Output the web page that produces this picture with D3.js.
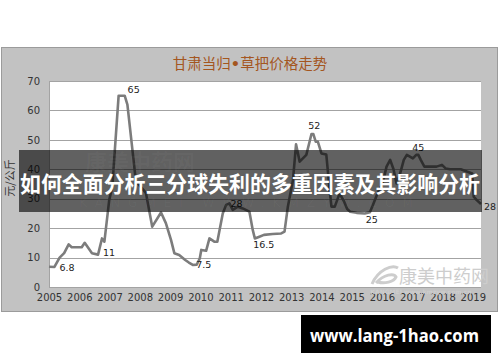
<!DOCTYPE html>
<html>
<head>
<meta charset="utf-8">
<script src="https://cdn.jsdelivr.net/npm/d3@7"></script>
<style>
  body { margin: 0; background: #fff; }
  svg { display: block; }
</style>
</head>
<body>
<div id="viz"></div>
<script>
// price series, 甘肃当归 草把 (元/公斤)
const years = [
    2005.00, 2005.18, 2005.35, 2005.50, 2005.65, 2005.75, 2006.08, 2006.18, 2006.42, 2006.62,
    2006.75, 2006.83, 2006.99, 2007.09, 2007.30, 2007.50, 2007.59, 2007.87, 2008.20, 2008.41,
    2008.70, 2008.86, 2009.03, 2009.14, 2009.30, 2009.50, 2009.62, 2009.75, 2009.88, 2009.98,
    2010.03, 2010.19, 2010.30, 2010.46, 2010.56, 2010.74, 2010.85, 2010.96, 2011.07, 2011.24,
    2011.40, 2011.62, 2011.73, 2011.80, 2011.95, 2012.10, 2012.39, 2012.67, 2012.78, 2012.89,
    2013.06, 2013.16, 2013.28, 2013.50, 2013.67, 2013.73, 2013.81, 2013.88, 2014.00, 2014.16,
    2014.27, 2014.33, 2014.44, 2014.60, 2014.75, 2014.85, 2014.95, 2015.16, 2015.43, 2015.60,
    2015.70, 2015.85, 2016.02, 2016.15, 2016.27, 2016.38, 2016.48, 2016.60, 2016.72, 2016.82,
    2016.92, 2017.02, 2017.13, 2017.20, 2017.28, 2017.40, 2017.80, 2017.98, 2018.10, 2018.25,
    2018.60, 2018.98, 2019.03, 2019.12, 2019.27
];
const prices = [
    6.9, 6.8, 10.0, 11.5, 14.5, 13.5, 13.5, 15.0, 11.5, 11.0,
    16.5, 15.4, 29.6, 34.0, 65.0, 65.0, 62.0, 36.0, 32.0, 20.5,
    25.3, 21.7, 16.0, 11.5, 10.9, 9.2, 8.3, 7.5, 7.6, 9.7,
    12.6, 12.3, 16.5, 15.4, 15.4, 25.0, 27.9, 28.4, 26.2, 27.3,
    26.7, 25.6, 19.4, 16.5, 17.1, 17.7, 18.0, 18.2, 18.8, 27.3,
    36.4, 48.5, 42.6, 44.9, 52.0, 52.0, 49.4, 49.4, 45.4, 45.0,
    33.0, 27.3, 27.3, 31.8, 29.0, 26.5, 25.6, 25.2, 25.0, 25.4,
    27.9, 31.8, 35.2, 40.9, 43.2, 40.0, 35.2, 38.6, 43.2, 44.9,
    44.3, 43.7, 44.9, 44.9, 43.2, 40.9, 40.9, 41.5, 40.3, 40.0,
    40.0, 38.6, 30.7, 29.6, 28.2
];

// annotated points
const noteYears  = [2005.30, 2006.62, 2007.40, 2009.75, 2010.96, 2011.80, 2013.70, 2015.43, 2017.13, 2019.27];
const noteValues = [6.8, 11, 65, 7.5, 28, 16.5, 52, 25, 45, 28];
const noteTexts  = ["6.8", "11", "65", "7.5", "28", "16.5", "52", "25", "45", "28"];

const yearTicks  = d3.range(2005, 2020);
const valueTicks = [0, 10, 20, 30, 40, 50, 60, 70];

const titleParts = ["甘肃当归", "•", "草把价格走势"];
const yTitle     = "元/公斤";
const bannerText = "如何全面分析三分球失利的多重因素及其影响分析";
const siteText   = "www.lang-1hao.com";

const width = 500;
const height = 362;
const plot = { left: 49, right: 481, top: 81, bottom: 287 };
const cjk = "'Noto Sans CJK SC', sans-serif";
const latin = "'DejaVu Sans', Verdana, sans-serif";

const svg = d3.select("#viz").append("svg")
    .attr("width", width)
    .attr("height", height);

const x = d3.scaleLinear()
    .domain([2005, 2019.27])
    .range([plot.left, plot.right]);

const y = d3.scaleLinear()
    .domain([0, 70])
    .range([plot.bottom, plot.top]);

// outer frame
svg.append("rect")
    .attr("x", 1.5).attr("y", 47.5)
    .attr("width", 496).attr("height", 264)
    .attr("fill", "#c2c2c2")
    .attr("stroke", "#9b9b9b");

svg.append("rect")
    .attr("x", plot.left).attr("y", plot.top)
    .attr("width", plot.right - plot.left)
    .attr("height", plot.bottom - plot.top)
    .attr("fill", "#fff");

svg.append("text")
    .attr("x", 250).attr("y", 69)
    .attr("text-anchor", "middle")
    .style("font-family", cjk)
    .style("font-size", "14.5px")
    .style("fill", "#a4561f")
  .selectAll("tspan")
    .data(titleParts)
    .join("tspan")
        .style("font-family", (d, i) => i === 1 ? latin : cjk)
        .style("font-weight", (d, i) => i === 1 ? "bold" : null)
        .text(d => d);

// grid
svg.selectAll(".grid")
    .data(valueTicks.filter(d => d > 0))
    .join("line")
        .attr("class", "grid")
        .attr("x1", plot.left).attr("x2", plot.right)
        .attr("y1", d => Math.round(y(d)) + 0.5)
        .attr("y2", d => Math.round(y(d)) + 0.5)
        .attr("stroke", "#a3a3a3");

svg.append("line")
    .attr("x1", plot.left + 0.5).attr("x2", plot.left + 0.5)
    .attr("y1", plot.top).attr("y2", plot.bottom)
    .attr("stroke", "#a3a3a3");
svg.append("line")
    .attr("x1", plot.left).attr("x2", plot.right)
    .attr("y1", plot.bottom + 0.5).attr("y2", plot.bottom + 0.5)
    .attr("stroke", "#a3a3a3");

// axes
const yAxis = svg.append("g")
    .attr("transform", `translate(${plot.left - 9},0)`)
    .call(d3.axisLeft(y).tickValues(valueTicks).tickSize(0).tickPadding(0));
yAxis.select(".domain").remove();

const xAxis = svg.append("g")
    .attr("transform", `translate(0,${plot.bottom + 7})`)
    .call(d3.axisBottom(x).tickValues(yearTicks).tickFormat(d3.format("d")).tickSize(0).tickPadding(0));
xAxis.select(".domain").remove();

svg.selectAll(".tick text")
    .style("font-family", latin)
    .style("font-size", "10px")
    .style("fill", "#333");

svg.append("text")
    .attr("transform", "translate(14,178) rotate(-90)")
    .attr("text-anchor", "middle")
    .style("font-family", cjk)
    .style("font-size", "11px")
    .style("fill", "#333")
    .text(yTitle);

// watermark bottom right
const wm = svg.append("g").style("fill", "#cdcdcd");
wm.append("path")
    .attr("d", "M372,284 C378,270 392,264 398,268 M376,283 C384,274 394,273 396,277 C394,282 384,284 378,282")
    .attr("fill", "none")
    .attr("stroke", "#cdcdcd")
    .attr("stroke-width", 3);
wm.append("text")
    .attr("x", 444).attr("y", 283)
    .attr("text-anchor", "middle")
    .style("font-family", cjk)
    .style("font-size", "18px")
    .text("康美中药网");
wm.append("text")
    .attr("x", 421).attr("y", 294)
    .attr("text-anchor", "middle")
    .style("font-family", latin)
    .style("font-size", "6px")
    .style("font-weight", "bold")
    .text("KANGMEI   www.kmzyw.com.cn");

// price line
const series = years.map((d, i) => ({ year: d, value: prices[i] }));

svg.append("path")
    .datum(series)
    .attr("fill", "none")
    .attr("stroke", "#7c7c7c")
    .attr("stroke-width", 2.6)
    .attr("stroke-linejoin", "round")
    .attr("d", d3.line().x(d => x(d.year)).y(d => y(d.value)));

// point notes
const noteDx = [9, 11, 12, 11, 7, 9, 2, 7, 2, 3];
const noteDy = [4, 1, -3, 3, 2, 10, -5, 10, -4, 5];
svg.selectAll(".note")
    .data(noteTexts)
    .join("text")
        .attr("class", "note")
        .attr("x", (d, i) => x(noteYears[i]) + noteDx[i])
        .attr("y", (d, i) => y(noteValues[i]) + noteDy[i])
        .attr("text-anchor", (d, i) => i === noteTexts.length - 1 ? "start" : "middle")
        .style("font-family", latin)
        .style("font-size", "9.5px")
        .style("fill", "#222")
        .text(d => d);

// dark banner over the chart
svg.append("rect")
    .attr("x", 19).attr("y", 150)
    .attr("width", 463).attr("height", 62)
    .attr("fill", "#000")
    .attr("fill-opacity", 0.62);

svg.append("text")
    .attr("x", 140).attr("y", 170)
    .attr("text-anchor", "middle")
    .style("font-family", cjk)
    .style("font-size", "22px")
    .style("font-weight", "bold")
    .style("fill", "#fff")
    .style("fill-opacity", 0.035)
    .text("康美中药网");
svg.append("text")
    .attr("x", 250).attr("y", 207)
    .attr("text-anchor", "middle")
    .style("font-family", latin)
    .style("font-size", "12px")
    .style("letter-spacing", "8px")
    .style("fill", "#fff")
    .style("fill-opacity", 0.035)
    .text("KANGMEI WWW.KMZYW.COM");

svg.append("text")
    .attr("x", 20).attr("y", 192)
    .attr("textLength", 460)
    .attr("lengthAdjust", "spacingAndGlyphs")
    .style("font-family", cjk)
    .style("font-size", "21.5px")
    .style("font-weight", "bold")
    .style("fill", "#fff")
    .text(bannerText);

// site tag
svg.append("rect")
    .attr("x", 301).attr("y", 315)
    .attr("width", 190).attr("height", 38)
    .attr("fill", "#000");

svg.append("text")
    .attr("x", 310).attr("y", 342)
    .attr("textLength", 169)
    .attr("lengthAdjust", "spacingAndGlyphs")
    .style("font-family", "'Open Sans', 'DejaVu Sans', sans-serif")
    .style("font-size", "18px")
    .style("font-weight", "bold")
    .style("fill", "#fff")
    .text(siteText);
</script>
</body>
</html>
